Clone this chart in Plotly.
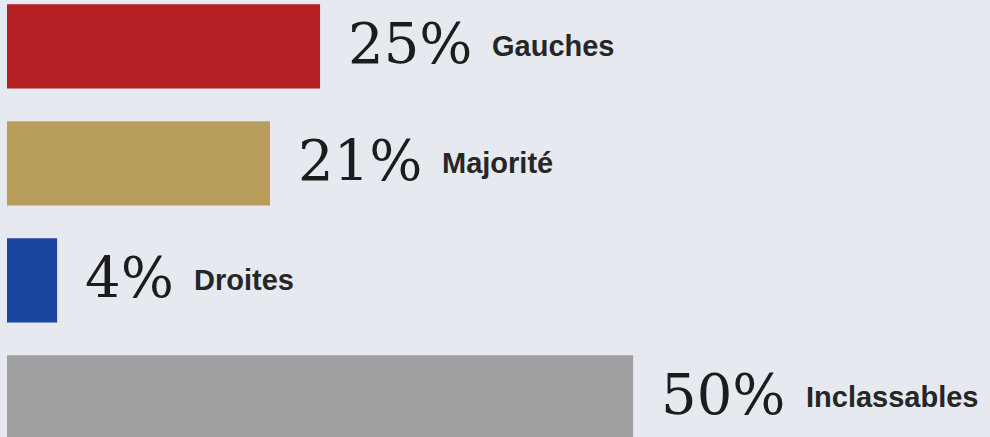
import plotly.graph_objects as go

categories = ["Gauches", "Majorité", "Droites", "Inclassables"]
values = [25, 21, 4, 50]
pct_labels = ["25%", "21%", "4%", "50%"]
colors = ["#b31f23", "#b89d5b", "#1a46a0", "#a0a0a2"]

BG = "#e6eaf0"
PCT_SIZE = 56
NAME_SIZE = 29

def pct_width(s, size):
    w = 0.0
    for ch in s:
        w += 0.95 if ch == "%" else 0.636
    return w * size

fig = go.Figure()
fig.add_trace(go.Bar(
    x=values,
    y=categories,
    orientation="h",
    marker=dict(color=colors, line=dict(width=0)),
    width=0.72,
    hoverinfo="skip",
))

annotations = []
for cat, val, pct in zip(categories, values, pct_labels):
    pct_shift = 26
    annotations.append(dict(
        x=val, y=cat, xref="x", yref="y",
        text=pct, showarrow=False,
        xanchor="left", yanchor="middle",
        xshift=pct_shift, yshift=3,
        font=dict(family="DejaVu Serif, serif", size=PCT_SIZE, color="#1c1c1c"),
    ))
    name_shift = pct_shift + pct_width(pct, PCT_SIZE) + 20
    annotations.append(dict(
        x=val, y=cat, xref="x", yref="y",
        text="<b>" + cat + "</b>", showarrow=False,
        xanchor="left", yanchor="middle",
        xshift=name_shift, yshift=0,
        font=dict(family="Liberation Sans, Arial, sans-serif", size=NAME_SIZE, color="#262626"),
    ))

fig.update_layout(
    width=990, height=437,
    margin=dict(l=0, r=0, t=0, b=0),
    paper_bgcolor=BG, plot_bgcolor=BG,
    showlegend=False,
    annotations=annotations,
    xaxis=dict(range=[-0.559, 78.5], visible=False, fixedrange=True),
    yaxis=dict(range=[3.338, -0.397], visible=False, fixedrange=True,
               type="category", categoryorder="array", categoryarray=categories),
    bargap=0.28,
)

fig.write_html("out.html", config={"displayModeBar": False},
               post_script="document.body.style.margin='0';document.body.style.background='%s';" % BG)
